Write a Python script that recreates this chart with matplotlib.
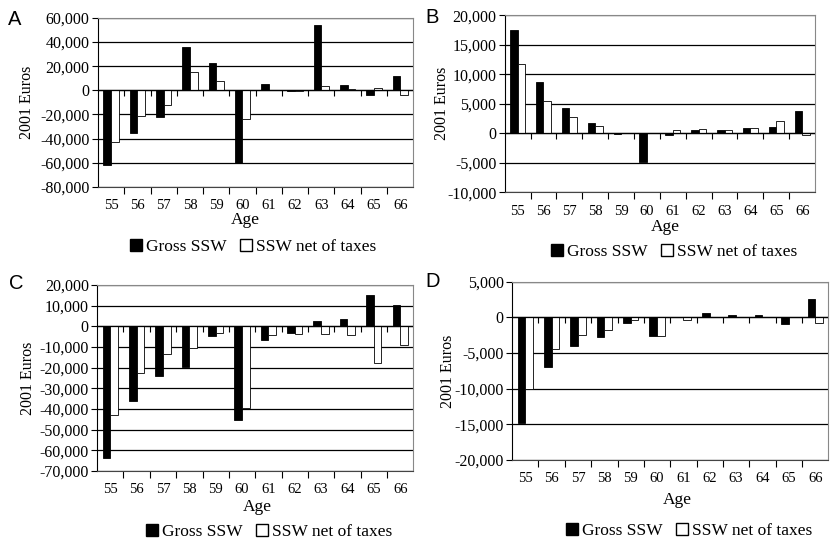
import numpy as np
import matplotlib.pyplot as plt
from matplotlib.patches import Patch
from matplotlib.ticker import FuncFormatter, MultipleLocator

plt.rcParams['font.family'] = ['Liberation Serif', 'DejaVu Serif']

ages = list(range(55, 67))

a_gross = [-62000, -35000, -22000, 36000, 23000, -60000, 5500, -1000, 54000, 4500, -3500, 12000]
a_net = [-43000, -21000, -12000, 15000, 8000, -24000, 200, -500, 3500, 800, 1500, -3500]

b_gross = [17500, 8600, 4300, 1700, -200, -4900, -300, 500, 500, 800, 1000, 3700]
b_net = [11800, 5500, 2700, 1300, 50, 0, 500, 700, 500, 800, 2100, -300]

c_gross = [-64000, -36000, -24000, -19500, -4500, -45500, -6500, -3000, 2500, 3500, 15000, 10500]
c_net = [-43000, -22500, -13500, -10300, -3300, -39500, -4000, -3500, -3500, -4000, -18000, -9000]

d_gross = [-14800, -6900, -4000, -2700, -800, -2600, 100, 600, 400, 400, -900, 2600]
d_net = [-10000, -4500, -2500, -1800, -400, -2600, -300, 100, 100, 100, 0, -800]

panels = [
    # letter, gross, net, ylim, step, axes rect, letter pos, age pos, ylabel x, legend pos
    ("A", a_gross, a_net, (-80000, 60000), 20000, [0.118, 0.656, 0.380, 0.311], (0.009, 0.965), (0.296, 0.595), 0.032, (0.305, 0.545)),
    ("B", b_gross, b_net, (-10000, 20000), 5000, [0.608, 0.646, 0.374, 0.326], (0.513, 0.968), (0.801, 0.582), 0.532, (0.812, 0.536)),
    ("C", c_gross, c_net, (-70000, 20000), 10000, [0.117, 0.133, 0.381, 0.342], (0.011, 0.477), (0.310, 0.066), 0.034, (0.324, 0.021)),
    ("D", d_gross, d_net, (-20000, 5000), 5000, [0.617, 0.153, 0.381, 0.328], (0.513, 0.481), (0.816, 0.079), 0.540, (0.830, 0.022)),
]

fig = plt.figure(figsize=(8.3, 5.43), dpi=100)
x = np.arange(len(ages))
w = 0.29

for letter, gross, net, ylim, step, rect, lpos, agepos, ylx, legpos in panels:
    ax = fig.add_axes(rect)
    ax.bar(x - w / 2, gross, w, color="black", edgecolor="black", linewidth=0.6, zorder=3)
    ax.bar(x + w / 2, net, w, color="white", edgecolor="black", linewidth=0.6, zorder=3)
    ax.axhline(0, color="black", linewidth=0.9, zorder=4)

    ax.set_xlim(-0.5, len(ages) - 0.5)
    ax.set_ylim(*ylim)
    ax.yaxis.set_major_locator(MultipleLocator(step))
    ax.yaxis.set_major_formatter(FuncFormatter(lambda v, p: f"{v:,.0f}"))
    ax.grid(axis="y", color="black", linewidth=0.9, zorder=0)

    ax.set_xticks(x)
    ax.set_xticklabels([str(a) for a in ages])
    ax.set_xticks(np.arange(0.5, len(ages) - 0.5, 1), minor=True)
    ax.tick_params(axis="x", which="major", length=0, labelsize=10.5, pad=9)
    ax.tick_params(axis="x", which="minor", length=5, width=0.8, direction="out")
    ax.tick_params(axis="y", length=4, width=0.8, labelsize=11.5, pad=2)

    for s in ["top", "right"]:
        ax.spines[s].set_color("#888888")
    ax.spines["left"].set_color("black")
    ax.spines["bottom"].set_color("#444444")

    # small category ticks on the zero line
    tw = ax.twiny()
    tw.set_xlim(ax.get_xlim())
    tw.spines["bottom"].set_position(("data", 0))
    for s in ["top", "right", "left", "bottom"]:
        tw.spines[s].set_visible(False)
    tw.xaxis.set_ticks_position("bottom")
    tw.set_xticks(np.arange(0.5, len(ages) - 0.5, 1))
    tw.tick_params(axis="x", length=4, width=0.8, direction="out", labelbottom=False, labeltop=False)

    fig.text(agepos[0], agepos[1], "Age", ha="center", va="center", fontsize=12.5)
    fig.text(ylx, rect[1] + rect[3] / 2, "2001 Euros", rotation=90, ha="center", va="center", fontsize=11.5)
    fig.text(lpos[0], lpos[1], letter, ha="left", va="center", fontsize=14.5,
             family=["Liberation Sans", "DejaVu Sans"])

    handles = [Patch(facecolor="black", edgecolor="black", label="Gross SSW"),
               Patch(facecolor="white", edgecolor="black", label="SSW net of taxes")]
    fig.legend(handles=handles, loc="center", bbox_to_anchor=legpos, ncol=2, frameon=False,
               fontsize=12.5, handlelength=0.7, handleheight=0.7, handletextpad=0.2,
               columnspacing=0.8, borderpad=0)

fig.savefig("out.png", dpi=100)
